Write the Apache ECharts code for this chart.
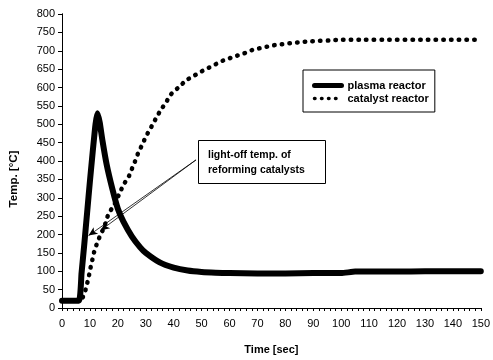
<!DOCTYPE html>
<html>
<head>
<meta charset="utf-8">
<script src="https://cdn.jsdelivr.net/npm/echarts@6/dist/echarts.min.js"></script>
<style>
  html, body { margin: 0; padding: 0; background: #fff; }
  #chart { width: 493px; height: 360px; }
</style>
</head>
<body>
<div id="chart"></div>
<script>
// values
const plasmaTime = [0, 6, 7, 8, 9, 10, 11, 12, 12.7, 13.5, 14.5, 16, 18, 20, 22, 25, 28, 30, 35, 40, 45, 50, 55, 60, 70, 80, 90, 100, 105, 110, 120, 130, 140, 150];
const plasmaTemp = [20, 20, 95, 175, 260, 345, 425, 500, 530, 505, 455, 390, 325, 270, 235, 195, 165, 150, 124, 110, 102, 98, 96, 95, 94, 94, 95, 95, 99, 99, 99, 100, 100, 100];

const catalystTime = [0, 7, 7.5, 8.5, 9.2, 9.8, 10.4, 11, 11.6, 12.6, 13.6, 14.8, 15.8, 16.7, 18.5, 20.8, 22, 23.8, 25, 26.1, 27.3, 28.5, 29.6, 30.8, 32.3, 33.8, 35.5, 37.3, 39, 42, 44.6, 47.3, 50, 52.4, 55.2, 57.9, 60.6, 63.2, 66, 68.5, 71, 74, 76.7, 79, 82, 85, 88, 92, 96, 100, 150];
const catalystTemp = [20, 20, 30, 51, 73, 93, 116, 135, 155, 177, 196, 215, 236, 257, 278, 315, 335, 356, 378, 398, 422, 441, 459, 477, 497, 518, 540, 560, 581, 602, 620, 632, 644, 653, 664, 674, 681, 688, 695, 703, 707, 712, 716, 718, 721, 723, 725, 727, 728, 730, 730];

// light-off annotation: arrow start (at the text box) and the two targets
const arrowFrom = [48, 403];
const arrowTargets = [[9.5, 197], [13.8, 211]];

const pairs = (xs, ys) => xs.map((x, i) => [x, ys[i]]);

const FONT = 'Liberation Sans, Arial, sans-serif';

const chart = echarts.init(document.getElementById('chart'));
chart.setOption({
  animation: false,
  backgroundColor: '#fff',
  grid: { left: 61, right: 7, top: 14, bottom: 50 },
  legend: {
    left: 303,
    top: 70,
    orient: 'vertical',
    padding: [10, 6, 8, 9],
    itemGap: 2,
    itemWidth: 27,
    itemHeight: 12,
    borderColor: '#000',
    borderWidth: 1,
    backgroundColor: '#fff',
    itemStyle: { opacity: 0 },
    textStyle: { fontFamily: FONT, fontSize: 11, fontWeight: 'bold', color: '#000', padding: [0, 0, 0, 1] },
    data: [
      { name: 'plasma reactor', lineStyle: { width: 5, color: '#000', type: 'solid', cap: 'round' } },
      { name: 'catalyst reactor', lineStyle: { width: 3.5, color: '#000', type: [0.5, 6.5], cap: 'round' } },
    ],
  },
  xAxis: [
    {
      type: 'value',
      min: 0,
      max: 150,
      interval: 10,
      name: 'Time [sec]',
      nameLocation: 'middle',
      nameGap: 36,
      nameTextStyle: { fontFamily: FONT, fontSize: 11, fontWeight: 'bold', color: '#000' },
      axisLine: { lineStyle: { color: '#000', width: 1 } },
      axisTick: { length: 3, lineStyle: { color: '#000' } },
      minorTick: { show: true, splitNumber: 5, length: 3, lineStyle: { color: '#000' } },
      axisLabel: { fontFamily: FONT, fontSize: 11, color: '#000', margin: 10 },
      splitLine: { show: false },
    },
    {
      type: 'value',
      position: 'top',
      min: 0,
      max: 150,
      axisLine: { show: true, lineStyle: { color: '#000', width: 1 } },
      axisTick: { show: false },
      axisLabel: { show: false },
      splitLine: { show: false },
    },
  ],
  yAxis: [
    {
      type: 'value',
      min: 0,
      max: 800,
      interval: 50,
      name: 'Temp. [°C]',
      nameLocation: 'middle',
      nameGap: 42,
      nameTextStyle: { fontFamily: FONT, fontSize: 11.5, fontWeight: 'bold', color: '#000', padding: [0, 0, 0, -36] },
      axisLine: { show: true, lineStyle: { color: '#000', width: 1 } },
      axisTick: { show: true, length: 4, lineStyle: { color: '#000' } },
      axisLabel: { fontFamily: FONT, fontSize: 11, color: '#000', margin: 7 },
      splitLine: { show: false },
    },
    {
      type: 'value',
      position: 'right',
      min: 0,
      max: 800,
      interval: 50,
      axisLine: { show: true, lineStyle: { color: '#000', width: 1 } },
      axisTick: { show: true, inside: true, length: 3, lineStyle: { color: '#000' } },
      axisLabel: { show: false },
      splitLine: { show: false },
    },
  ],
  series: [
    {
      name: 'catalyst reactor',
      type: 'line',
      data: pairs(catalystTime, catalystTemp),
      smooth: 0.3,
      symbol: 'none',
      z: 2,
      lineStyle: { color: '#000', width: 4.5, type: [0.5, 7.2], cap: 'round' },
      itemStyle: { color: '#000' },
    },
    {
      name: 'plasma reactor',
      type: 'line',
      data: pairs(plasmaTime, plasmaTemp),
      smooth: 0.15,
      symbol: 'none',
      z: 3,
      lineStyle: { color: '#000', width: 6, cap: 'round', join: 'round' },
      itemStyle: { color: '#000' },
    },
    {
      name: 'annotation',
      type: 'line',
      data: [],
      silent: true,
      markLine: {
        silent: true,
        symbol: ['none', 'arrow'],
        symbolSize: [6, 9],
        label: { show: false },
        lineStyle: { color: '#000', width: 0.8, type: 'solid' },
        data: arrowTargets.map((t) => [{ coord: arrowFrom }, { coord: t }]),
      },
    },
  ],
  graphic: [
    {
      type: 'rect',
      left: 198,
      top: 140,
      shape: { width: 127, height: 43 },
      style: { fill: '#fff', stroke: '#000', lineWidth: 1 },
      z: 10,
    },
    {
      type: 'text',
      left: 208,
      top: 148,
      z: 11,
      style: {
        text: 'light-off temp. of\nreforming catalysts',
        font: 'bold 10.5px ' + FONT,
        fill: '#000',
        lineHeight: 15,
      },
    },
  ],
});
</script>
</body>
</html>
